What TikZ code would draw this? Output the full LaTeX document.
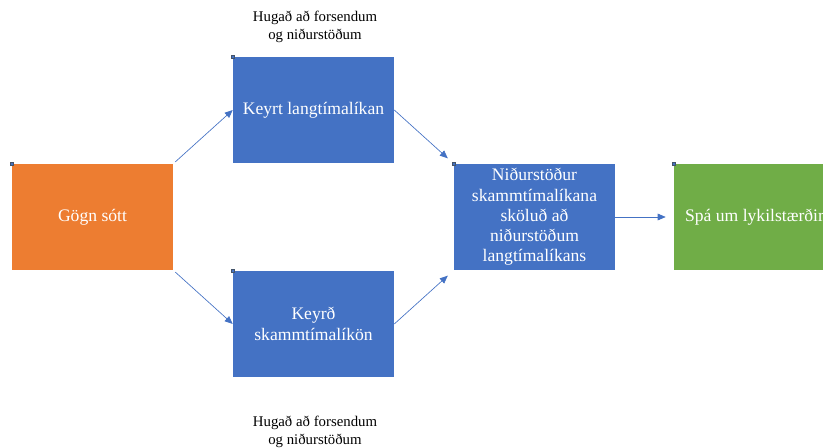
\documentclass[tikz,border=0pt]{standalone}
\usepackage{fontspec}
\setmainfont{Liberation Serif}
\usetikzlibrary{arrows.meta}
\definecolor{boxorange}{HTML}{ED7D31}
\definecolor{boxblue}{HTML}{4472C4}
\definecolor{boxgreen}{HTML}{70AD47}
\definecolor{markgray}{HTML}{44546A}
\tikzset{
  stagebox/.style={minimum width=120.75pt,minimum height=79.5pt,inner sep=0pt,
    text=white,align=center,font=\fontsize{13.2}{15.2}\selectfont},
  note/.style={align=center,font=\fontsize{11.1}{13.5}\selectfont},
  flow/.style={draw=boxblue,line width=0.5pt,-{Triangle[length=6pt,width=5pt]}},
  marker/.style={draw=markgray,fill=boxblue,minimum size=2.6pt,inner sep=0pt,line width=0.4pt}
}
\begin{document}
\begin{tikzpicture}[x=0.75pt,y=-0.75pt]
\useasboundingbox (0,0) rectangle (823,448);
\clip (0,0) rectangle (823,448);
%stages
\node[stagebox,fill=boxorange](gogn)at(92.5,217){G\"ogn s\'ott};
\node[stagebox,fill=boxblue](lang)at(313.5,110){Keyrt langt\'imal\'ikan};
\node[stagebox,fill=boxblue](skamm)at(313.5,324){Keyr\dh\\skammt\'imal\'ik\"on};
\node[stagebox,fill=boxblue](nidur)at(534.5,217){Ni\dh urst\"o\dh ur\\skammt\'imal\'ikana\\sk\"olu\dh\ a\dh\\ni\dh urst\"o\dh um\\langt\'imal\'ikans};
\node[stagebox,fill=boxgreen](spa)at(754.5,217){Sp\'a um lykilst\ae r\dh ir};
%notes
\node[note](notetop)at(315,27){Huga\dh\ a\dh\ forsendum\\og ni\dh urst\"o\dh um};
\node[note](notebot)at(315,432){Huga\dh\ a\dh\ forsendum\\og ni\dh urst\"o\dh um};
%corner markers
\foreach \n in {gogn,lang,skamm,nidur,spa}
  \node[marker]at(\n.north west){};
%connectors
\draw[flow,shorten <=2pt](gogn.north east)--(lang.west);
\draw[flow,shorten <=2pt](gogn.south east)--(skamm.west);
\draw[flow,shorten >=6pt](lang.east)--(nidur.north west);
\draw[flow,shorten >=6pt](skamm.east)--(nidur.south west);
\draw[flow,shorten >=6pt](nidur.east)--(spa.west);
\end{tikzpicture}
\end{document}
